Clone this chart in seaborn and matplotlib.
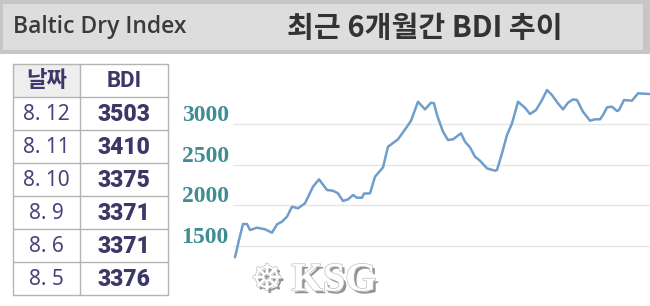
import matplotlib
matplotlib.use("Agg")
import matplotlib.pyplot as plt
import matplotlib.transforms as mtransforms
import matplotlib.patheffects as pe
from matplotlib.patches import Rectangle
import numpy as np
import pandas as pd
import seaborn as sns

# ---------------- data ----------------
title_left = "Baltic Dry Index"
title_right = "최근 6개월간 BDI 추이"

table_header = ["날짜", "BDI"]
table_dates = ["8. 12", "8. 11", "8. 10", "8. 9", "8. 6", "8. 5"]
table_values = ["3503", "3410", "3375", "3371", "3371", "3376"]

# time index (trading-day steps over the last ~6 months) and BDI level
t = [0, 4, 8, 12, 15, 22, 30, 37, 42, 47, 52, 57, 63, 70, 78, 84, 92, 98, 103,
     108, 113, 118, 122, 127, 129, 135, 140, 148, 153, 163, 172, 176, 183, 190,
     196, 199, 202, 208, 213, 218, 226, 230, 235, 240, 245, 252, 260, 262, 267,
     272, 277, 283, 290, 295, 301, 307, 312, 317, 323, 328, 333, 338, 342, 348,
     355, 360, 365, 368, 372, 377, 382, 384, 389, 397, 403, 415]
bdi = [1362, 1574, 1771, 1771, 1697, 1726, 1706, 1664, 1767, 1800, 1861, 1984,
       1964, 2025, 2230, 2320, 2189, 2180, 2148, 2054, 2074, 2127, 2094, 2094,
       2145, 2148, 2352, 2467, 2721, 2812, 2967, 3040, 3274, 3180, 3262, 3254,
       3110, 2906, 2803, 2812, 2886, 2783, 2713, 2598, 2549, 2455, 2426, 2435,
       2640, 2865, 3008, 3274, 3200, 3123, 3172, 3295, 3418, 3356, 3254, 3180,
       3262, 3303, 3295, 3151, 3041, 3058, 3058, 3110, 3205, 3213, 3160, 3172,
       3295, 3287, 3377, 3369]
yticks = [1500, 2000, 2500, 3000]
ytick_labels = ["1500", "2000", "2500", "3000"]

# ---------------- figure ----------------
sns.set_theme(style="white")
plt.rcParams["font.family"] = ["Noto Sans CJK KR", "DejaVu Sans"]

W, H = 650, 306
fig = plt.figure(figsize=(W / 100, H / 100), dpi=100)
fig.patch.set_facecolor("white")


def fx(px):
    return px / W


def fy(py):
    return 1 - py / H


# header band
fig.patches.append(Rectangle((0, fy(54)), 1, 54 / H, transform=fig.transFigure,
                             facecolor="#c6c6c6", edgecolor="none", zorder=0))
fig.patches.append(Rectangle((fx(3), fy(50)), fx(640), 46 / H, transform=fig.transFigure,
                             facecolor="#dddddd", edgecolor="none", zorder=0))
fig.text(fx(13), fy(27), title_left, ha="left", va="center", fontsize=16.5,
         color="#3a3a3a", fontweight="semibold",
         family=["Open Sans", "DejaVu Sans"])
fig.text(fx(425), fy(28), title_right, ha="center", va="center", fontsize=21,
         color="#333333", fontweight="bold",
         family=["Noto Sans CJK KR", "DejaVu Sans"])

# ---------------- table ----------------
tl, tt, tw, th = 13, 64, 155, 231
tax = fig.add_axes([fx(tl), fy(tt + th), fx(tw), th / H])
n_rows = len(table_dates) + 1
tax.set_xlim(0, 2)
tax.set_ylim(n_rows, 0)
tax.axis("off")
col_w = [67 / 155 * 2, 88 / 155 * 2]
tax.add_patch(Rectangle((0, 0), col_w[0], 1, facecolor="#eeeeee", edgecolor="none"))
for i in range(n_rows + 1):
    tax.plot([0, 2], [i, i], color="#b4b4b4", lw=1, clip_on=False)
for xv in [0, col_w[0], 2]:
    tax.plot([xv, xv], [0, n_rows], color="#b4b4b4", lw=1, clip_on=False)
txt_col = "#3b3868"
tax.text(col_w[0] / 2, 0.5, table_header[0], ha="center", va="center", fontsize=16,
         color=txt_col, fontweight="bold", family=["Noto Sans CJK KR", "DejaVu Sans"])
tax.text(col_w[0] + col_w[1] / 2, 0.52, table_header[1], ha="center", va="center",
         fontsize=16, color=txt_col, fontweight="bold", family=["Roboto", "DejaVu Sans"])
for i, (d, v) in enumerate(zip(table_dates, table_values)):
    tax.text(col_w[0] / 2, i + 1.52, d, ha="center", va="center", fontsize=15,
             color="#46437a", family=["Noto Sans", "DejaVu Sans"])
    tax.text(col_w[0] + col_w[1] / 2, i + 1.52, v, ha="center", va="center",
             fontsize=16.5, color=txt_col, fontweight="heavy",
             family=["Roboto", "DejaVu Sans"])

# ---------------- line chart ----------------
al, at, ar, ab = 233, 60, 650, 262
ax = fig.add_axes([fx(al), fy(ab), fx(ar - al), (ab - at) / H])
df = pd.DataFrame({"t": t, "BDI": bdi})
sns.lineplot(data=df, x="t", y="BDI", ax=ax, color="#6f9ecb", lw=1.8)
ax.set_xlim(-2, 415)
ax.set_ylim(1304, 3787)
ax.set_yticks(yticks)
ax.set_yticklabels(ytick_labels)
ax.set_xticks([])
ax.set_xlabel("")
ax.set_ylabel("")
for s in ax.spines.values():
    s.set_visible(False)
ax.yaxis.grid(True, color="#e6e6e6", lw=1)
ax.set_axisbelow(True)
ax.tick_params(axis="y", length=0, pad=3)
offset = mtransforms.ScaledTranslation(0, 0.11, fig.dpi_scale_trans)
for lab in ax.get_yticklabels():
    lab.set_fontfamily(["Liberation Serif", "DejaVu Serif"])
    lab.set_fontweight("bold")
    lab.set_fontsize(17)
    lab.set_color("#3f8d93")
    lab.set_transform(lab.get_transform() + offset)

# ---------------- watermark ----------------
wm_effects = [pe.withSimplePatchShadow(offset=(2, -2), shadow_rgbFace="#808080", alpha=0.85),
              pe.withStroke(linewidth=1.0, foreground="#c0c0c0")]
fig.text(fx(334), fy(281), "KSG", ha="center", va="center", fontsize=29,
         color="white", fontweight="bold", family=["Liberation Serif", "DejaVu Serif"],
         path_effects=wm_effects, zorder=10)
fig.text(fx(267), fy(280), "☸", ha="center", va="center", fontsize=26,
         color="white", family=["DejaVu Sans"], path_effects=wm_effects, zorder=10)

fig.savefig("out.png", dpi=100, facecolor="white")
